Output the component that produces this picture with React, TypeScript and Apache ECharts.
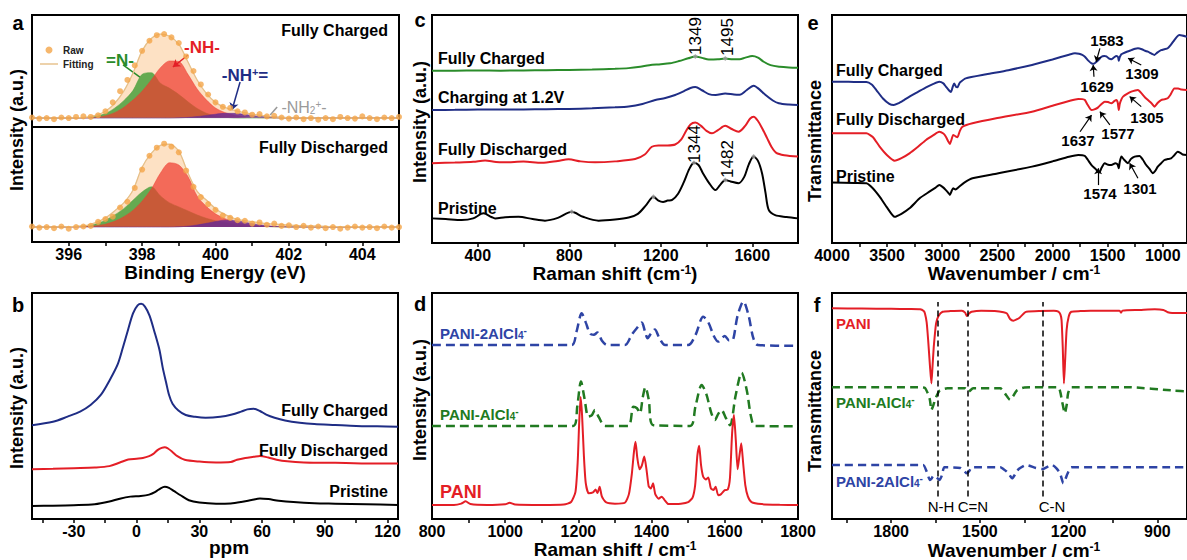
import React, { useEffect, useRef } from 'react';
import * as echarts from 'echarts';

const F = "'Liberation Sans', Arial, Helvetica, sans-serif";
const NAVY = '#1f2d85';
const RED = '#e41e26';
const GREEN = '#2a8c2a';
const DBLUE = '#2e44a5';
const DGREEN = '#217a21';

// ---------- panel a (XPS N1s) ----------
const aFitX = [395, 396, 396.5, 396.75, 397, 397.25, 397.5, 397.75, 398, 398.25, 398.5, 398.75, 399, 399.25, 399.5, 399.75, 400, 400.25, 400.5, 400.75, 401, 401.25, 401.5, 401.75, 402, 403, 405];
const aTopEnvelope = [8, 8.2, 8.8, 10.5, 14, 21, 32, 48, 68, 79, 83, 81, 74, 58, 42, 30, 22, 17.5, 15, 13, 11.5, 10.3, 9.3, 8.7, 8.3, 8, 8];
const aTopN = [8, 8.1, 8.5, 9.6, 12, 16.8, 23.5, 32.5, 47, 48.5, 39, 34.5, 29, 22.5, 16.5, 12.3, 9.8, 8.7, 8.2, 8, 8, 8, 8, 8, 8, 8, 8];
const aTopNH = [8, 8, 8, 8.6, 10, 12.8, 17.5, 24, 32, 42, 53, 59, 58.5, 47, 34, 24.3, 17, 13, 10.7, 9.4, 8.7, 8.3, 8.1, 8, 8, 8, 8];
const aTopNHp = [8, 8, 8, 8, 8, 8, 8, 8, 8, 8, 8, 8, 8.2, 8.6, 9.3, 10.3, 11.4, 12.2, 12.2, 11.4, 10.3, 9.4, 8.7, 8.3, 8.1, 8, 8];
const aTopNH2 = [8, 8, 8, 8, 8, 8, 8, 8, 8, 8, 8, 8, 8, 8, 8, 8, 8, 8, 8, 8.3, 8.8, 9.1, 9.2, 9, 8.6, 8, 8];
const aBotEnvelope = [13, 13.3, 14.5, 17, 21, 27, 34, 45, 65, 77, 84, 85, 79, 60, 44, 36.5, 29, 24, 20.6, 18.8, 17.6, 16.5, 15.8, 15.2, 14.6, 13.6, 13];
const aBotN = [13, 13.2, 14, 15.8, 19, 23.5, 29, 36.3, 43.5, 48, 40, 34, 30.5, 27, 23.5, 20.6, 18.5, 17, 15.6, 14.6, 14, 13.6, 13.3, 13.1, 13, 13, 13];
const aBotNH = [13, 13, 13.5, 14.2, 15.5, 18, 22, 27.5, 35.5, 46, 60, 69, 67, 57, 40, 31, 24.5, 20.5, 17.6, 15.8, 14.6, 13.9, 13.4, 13.2, 13, 13, 13];
const aBotNHp = [13, 13, 13, 13, 13, 13, 13, 13, 13, 13, 13, 13, 13.2, 13.8, 14.8, 16.2, 17.8, 19, 18.8, 17.6, 16, 14.8, 13.9, 13.4, 13.1, 13, 13];
const aRawX = [395, 395.2, 395.4, 395.6, 395.8, 396, 396.2, 396.4, 396.6, 396.8, 397, 397.2, 397.4, 397.6, 397.8, 398, 398.2, 398.4, 398.6, 398.8, 399, 399.2, 399.4, 399.6, 399.8, 400, 400.2, 400.4, 400.6, 400.8, 401, 401.2, 401.4, 401.6, 401.8, 402, 402.2, 402.4, 402.6, 402.8, 403, 403.2, 403.4, 403.6, 403.8, 404, 404.2, 404.4, 404.6, 404.8, 405];
const aRawTop = [8.5, 7.5, 8, 7, 8.5, 8, 9, 9.5, 9, 10.5, 14, 22, 32, 42, 55, 68, 77, 82, 83, 80, 75, 63, 50, 38, 29, 22, 18, 17, 14, 13, 11, 11.5, 9.5, 10, 8.5, 7.5, 8.5, 7, 8, 6.5, 8, 7, 9, 8, 7.5, 9.5, 8, 7, 8.5, 8, 9];
const aRawBot = [13.5, 12.5, 13, 12, 13.5, 11.5, 13, 13.5, 14, 17.5, 20, 22, 30, 35, 47, 63, 75, 82, 85.5, 83, 78, 62, 48, 39, 33, 28, 23, 21, 19, 18.5, 16, 17, 15, 16, 14, 14.5, 13, 14, 12.5, 13.5, 12, 13, 11.5, 12.5, 13.5, 12.5, 13, 12, 13.5, 12.5, 13];
const aLabels = [396, 398, 400, 402, 404];
const aTicks = [396, 397, 398, 399, 400, 401, 402, 403, 404];
// annotation pointers: x1, y1, x2, y2
const aPointers = [
  [397.48, 55.4, 397.94, 44.6],
  [399.25, 64.3, 398.84, 53.6],
  [400.67, 40.2, 400.45, 15.2],
  [401.68, 17.9, 401.49, 10.7],
];

// ---------- panel b (NMR) ----------
const bCharged = [[-50, 41.5], [-40, 43], [-33, 45.3], [-27, 47.5], [-22, 50.4], [-17, 55], [-12.8, 61.5], [-9, 68.5], [-6.5, 76], [-4, 84], [-1.7, 91], [0.5, 94.5], [2.2, 95.2], [4, 94], [6.2, 90], [8.5, 83], [10.9, 75], [12.5, 67], [14.1, 60.5], [15.5, 55], [17.2, 51], [20, 48], [23.5, 46], [28, 45.2], [33, 44.8], [40, 45.2], [45.6, 46.2], [50, 47.5], [53, 48.5], [56, 48.8], [59, 47.8], [62, 46.2], [66, 44.8], [71, 43.6], [78, 42.6], [85, 42], [95, 41.6], [105, 41.2], [115, 41], [125, 40.8]];
const bDischarged = [[-50, 22], [-40, 22.2], [-30, 22.5], [-20, 22.8], [-13, 23.4], [-8, 25], [-4, 26.3], [0, 26.7], [3, 27], [6, 27.8], [8, 28.8], [10, 30.5], [12, 31.5], [13.5, 31.8], [15, 31.2], [17, 29.8], [19.5, 27.8], [23, 26.2], [30, 25.4], [38, 25], [45, 25.2], [48, 26.2], [52, 27], [56, 27.5], [59, 27.9], [63, 27.2], [67, 26.2], [72, 25.5], [80, 25], [90, 24.9], [100, 24.8], [110, 24.6], [125, 24.6]];
const bPristine = [[-50, 5.8], [-40, 5.9], [-30, 6.1], [-20, 6.5], [-13, 7.7], [-8, 9], [-3, 9.9], [2, 10.2], [6, 10.8], [9, 12], [11.5, 13.6], [13.5, 14.3], [15.5, 13.8], [18, 12.3], [21, 10.5], [25, 8.3], [30, 7.3], [38, 6.8], [45, 6.9], [50, 7.5], [55, 8.4], [59, 9.1], [63, 8.8], [68, 8.1], [75, 7.5], [85, 7], [95, 6.8], [110, 6.5], [125, 6.2]];
const bLabels = [-30, 0, 30, 60, 90, 120];
const bTicks = [-45, -30, -15, 0, 15, 30, 45, 60, 75, 90, 105, 120];

// ---------- panel c (Raman) ----------
const cCharged = [[200, 75.6], [300, 75.6], [400, 75.7], [500, 75.6], [600, 75.7], [700, 75.8], [800, 75.9], [900, 76.1], [1000, 76.4], [1059, 76.7], [1110, 77.3], [1150, 78], [1200, 78.4], [1240, 78.8], [1280, 79.8], [1320, 81], [1351, 81.8], [1380, 81.2], [1410, 80.5], [1450, 80.6], [1482, 80.9], [1515, 80.6], [1545, 80.6], [1570, 81.3], [1600, 82], [1625, 81.3], [1650, 79.5], [1680, 78], [1720, 77.3], [1760, 77], [1800, 76.9]];
const cCharging = [[200, 58.3], [300, 58.4], [400, 58.5], [500, 58.5], [600, 58.6], [700, 58.7], [800, 58.8], [900, 59.1], [1000, 59.5], [1060, 59.9], [1120, 61], [1176, 62.7], [1220, 63.6], [1263, 64.9], [1300, 66.5], [1330, 68], [1351, 68.4], [1380, 67], [1410, 65.3], [1440, 64.9], [1482, 65.6], [1520, 65.1], [1545, 65], [1575, 67], [1606, 69], [1630, 67.5], [1657, 65], [1690, 62.5], [1716, 61.3], [1760, 60.7], [1800, 60.5]];
const cDischarged = [[200, 35], [300, 35.3], [380, 35.6], [432, 36.2], [480, 35.5], [519, 35.4], [600, 35.7], [680, 35.2], [750, 36], [797, 36.7], [850, 35.8], [913, 35.4], [1000, 35.8], [1088, 36.8], [1130, 38.8], [1161, 42.2], [1190, 42.8], [1230, 42.8], [1263, 43.2], [1290, 45.5], [1310, 49], [1330, 52], [1351, 52.8], [1375, 51.5], [1400, 49.2], [1424, 48.1], [1450, 49.5], [1482, 51.4], [1510, 50], [1540, 48.8], [1570, 51.5], [1590, 54.5], [1606, 55.4], [1625, 53.5], [1645, 50], [1665, 46], [1685, 42], [1705, 39.5], [1740, 38.5], [1800, 37.9]];
const cPristine = [[200, 10.8], [260, 10.5], [330, 10.1], [380, 10.8], [425, 13], [460, 11.4], [476, 10.8], [520, 11.3], [578, 11.5], [640, 10.5], [694, 9.8], [750, 11], [811, 13.7], [860, 11.5], [928, 9.8], [1000, 10.3], [1060, 11.2], [1100, 12.8], [1135, 16.5], [1168, 20.3], [1190, 18.6], [1210, 18], [1230, 18.6], [1250, 18.9], [1275, 21.5], [1300, 26.5], [1325, 32.5], [1345, 35.2], [1365, 34.2], [1385, 30.5], [1410, 26.5], [1439, 23.2], [1460, 25.5], [1482, 27.6], [1505, 27], [1540, 26.2], [1565, 29], [1585, 34.5], [1606, 37.9], [1625, 36], [1643, 30.5], [1658, 22], [1672, 14.5], [1700, 12.2], [1750, 11.4], [1800, 10.8]];
const cPeakMarks = [[811, 13.7], [1168, 20.3], [1345, 35.2], [1482, 27.6], [1606, 37.9], [1351, 81.8], [1482, 80.9]];
const cLabels = [400, 800, 1200, 1600];
const cTicks = [400, 600, 800, 1000, 1200, 1400, 1600];

// ---------- panel d (calculated Raman) ----------
const d2AlCl4 = [[800, 77], [1100, 77], [1182, 77], [1195, 83], [1209, 91], [1220, 87], [1232, 82], [1242, 81.5], [1252, 82.5], [1264, 79], [1278, 77], [1327, 77], [1346, 81.6], [1360, 84.5], [1373, 86.9], [1382, 83], [1389, 80], [1398, 82], [1409, 83.9], [1420, 80.5], [1437, 77], [1500, 77], [1520, 81.5], [1541, 89.5], [1555, 87], [1570, 81], [1582, 78.5], [1600, 81], [1612, 79], [1620, 79], [1635, 90], [1651, 96.2], [1665, 90], [1678, 80], [1690, 77], [1800, 76.6]];
const dAlCl4 = [[800, 41.2], [1100, 41.2], [1186, 41.2], [1197, 50], [1207, 60.8], [1217, 53], [1227, 45.3], [1237, 46], [1245, 48.2], [1256, 45], [1273, 41.2], [1336, 41.2], [1350, 49.7], [1360, 49], [1368, 46.8], [1376, 54], [1383, 58.3], [1392, 53], [1405, 41.5], [1505, 41.2], [1520, 50], [1537, 59.3], [1550, 55], [1563, 47], [1573, 43.8], [1582, 46.5], [1591, 48.2], [1602, 45], [1614, 41.5], [1630, 55], [1646, 64.7], [1660, 57], [1672, 45], [1683, 41.2], [1800, 41]];
const dPani = [[800, 6.2], [860, 6.2], [880, 6.8], [892, 7.8], [905, 6.6], [950, 6.2], [1000, 6.5], [1012, 7.2], [1027, 6.4], [1100, 6.2], [1160, 6.4], [1180, 7.5], [1192, 12], [1198, 25], [1202, 42], [1206, 54], [1210, 46], [1215, 28], [1220, 16], [1228, 11.4], [1240, 11.8], [1247, 13], [1252, 11.5], [1258, 14.3], [1264, 10], [1275, 7.5], [1300, 6.8], [1327, 7.2], [1338, 11], [1346, 20], [1352, 30], [1356, 34.2], [1361, 27], [1367, 22], [1373, 23.5], [1380, 27.6], [1386, 22], [1392, 14.5], [1398, 13.5], [1404, 15.8], [1410, 11], [1419, 9], [1428, 9.9], [1435, 8.5], [1446, 6.6], [1480, 6.8], [1500, 7.5], [1512, 9.5], [1519, 15], [1525, 28], [1530, 32.4], [1535, 24], [1541, 18.7], [1548, 17.5], [1555, 18.4], [1562, 13.5], [1569, 12.8], [1575, 14.3], [1582, 10.5], [1590, 11], [1600, 12.8], [1608, 13], [1614, 18], [1620, 38], [1625, 46], [1630, 35], [1635, 22], [1640, 28], [1645, 33.5], [1650, 25], [1656, 15], [1663, 10], [1673, 7.5], [1700, 6.6], [1750, 6.3], [1800, 6.2]];
const dLabels = [800, 1000, 1200, 1400, 1600, 1800];
const dTicks = [900, 1000, 1100, 1200, 1300, 1400, 1500, 1600, 1700];

// ---------- panel e (FTIR) ----------
const eCharged = [[4000, 70.7], [3850, 70.7], [3750, 70.6], [3688, 70.6], [3640, 69.5], [3598, 67.1], [3540, 63.5], [3480, 61], [3440, 60.5], [3400, 61.2], [3350, 62.6], [3297, 64.2], [3220, 66.3], [3147, 68.3], [3080, 69.8], [3027, 70.7], [2990, 70], [2967, 68.6], [2940, 67], [2922, 66.2], [2905, 68.5], [2892, 70], [2875, 68.5], [2862, 68.3], [2845, 70], [2832, 70.7], [2787, 72.2], [2600, 74], [2400, 75.8], [2186, 78.1], [2000, 80.5], [1850, 82.6], [1796, 83.2], [1760, 83], [1730, 82.5], [1706, 81.7], [1675, 80], [1646, 78.8], [1625, 78.6], [1601, 79.5], [1583, 80.2], [1556, 81.7], [1530, 82], [1511, 81.9], [1490, 81], [1466, 80.6], [1445, 81.3], [1420, 82], [1405, 81.5], [1399, 79.9], [1390, 81.5], [1375, 82.8], [1360, 83.2], [1320, 84], [1285, 84.6], [1250, 85.2], [1225, 85.4], [1190, 85], [1160, 84.3], [1135, 83.9], [1100, 83], [1075, 82.5], [1050, 83.5], [1015, 84.6], [985, 85], [955, 85.4], [925, 87], [895, 89], [870, 90.5], [850, 91.2], [825, 91], [780, 90.5]];
const eDischarged = [[4000, 48.1], [3800, 48.1], [3688, 48.1], [3630, 46.5], [3568, 42.3], [3500, 38.5], [3432, 36.1], [3370, 37.2], [3297, 39.3], [3220, 42.2], [3147, 45.2], [3080, 47.3], [3027, 48.8], [2990, 48], [2967, 46.6], [2945, 44.5], [2931, 43.4], [2915, 45.5], [2901, 47.4], [2880, 46.8], [2862, 46.4], [2840, 49.2], [2816, 51], [2726, 52.5], [2500, 54.8], [2186, 57.6], [2000, 60.2], [1850, 62.3], [1766, 63.2], [1730, 63.1], [1706, 62.7], [1680, 60.5], [1646, 58.3], [1620, 58.6], [1586, 59.5], [1555, 61], [1526, 62], [1495, 61.8], [1466, 61.3], [1440, 62.2], [1420, 62.7], [1408, 61.5], [1399, 58.3], [1390, 61], [1375, 63], [1360, 64.2], [1320, 65.5], [1285, 66.4], [1250, 66.9], [1225, 67.1], [1190, 65.5], [1160, 63.8], [1135, 62.7], [1100, 61.2], [1075, 59.8], [1045, 61.5], [1015, 62.7], [985, 63], [955, 63.5], [930, 65], [895, 67.8], [860, 67.8], [830, 67.3], [780, 67.1]];
const ePristine = [[4000, 26.5], [3800, 26.3], [3688, 26.2], [3630, 24], [3568, 20.3], [3500, 15.5], [3432, 11.5], [3370, 12.8], [3297, 15.2], [3200, 19.8], [3117, 22.5], [3060, 24.3], [3027, 25.4], [2995, 24.5], [2967, 23.2], [2945, 22], [2931, 21.1], [2915, 22.8], [2901, 24], [2880, 23.5], [2847, 24.7], [2800, 26.5], [2726, 28.4], [2500, 30.5], [2186, 33.5], [2000, 35.8], [1850, 37.8], [1766, 38.6], [1730, 38.5], [1706, 38.2], [1680, 36.5], [1646, 34.2], [1610, 32.5], [1586, 31.3], [1574, 31], [1555, 33], [1526, 35], [1495, 34.3], [1466, 34.2], [1430, 35], [1410, 34.5], [1399, 32.8], [1390, 35.5], [1375, 37.9], [1350, 36.5], [1315, 35], [1290, 36.8], [1255, 37.9], [1210, 38.2], [1180, 36.5], [1150, 34.2], [1120, 32.5], [1090, 30.6], [1070, 31.5], [1045, 33.5], [1015, 35], [985, 36.4], [955, 36.8], [925, 37.1], [895, 38.5], [865, 40], [840, 39.5], [820, 38.8], [780, 38.6]];
const eArrows = [[1570, 85.4, 1604, 79.5], [1624, 72.9, 1631, 78.1], [1195, 78.1, 1315, 81], [1750, 48.8, 1646, 56.1], [1480, 51.8, 1570, 57.6], [1195, 59.8, 1300, 64.2], [1586, 25.4, 1586, 32.8], [1225, 28.4, 1300, 35]];
const eLabels = [1000, 1500, 2000, 2500, 3000, 3500, 4000];
const eTicks = [1000, 1250, 1500, 1750, 2000, 2250, 2500, 2750, 3000, 3250, 3500, 3750];

// ---------- panel f (calculated IR) ----------
const fPani = [[2000, 93.2], [1900, 93.1], [1800, 93], [1740, 92.9], [1702, 92.8], [1690, 92], [1686, 91], [1680, 87], [1675, 79.2], [1669, 68], [1664, 60], [1660, 68], [1656, 76.2], [1652, 82], [1648, 86.6], [1640, 89.8], [1626, 91.7], [1600, 92], [1561, 92.2], [1550, 91.3], [1544, 89.8], [1536, 91], [1528, 91.7], [1496, 92.2], [1450, 92], [1420, 91.5], [1409, 91], [1398, 88.5], [1387, 87.7], [1376, 88.3], [1365, 89.2], [1350, 91.2], [1343, 91.7], [1300, 92], [1250, 92.1], [1235, 91.8], [1228, 90.5], [1224, 88], [1220, 76], [1216, 60], [1212, 70], [1207, 83.6], [1200, 89.5], [1191, 91.7], [1160, 92], [1126, 92.2], [1080, 92.2], [1040, 92.1], [1028, 92.2], [1023, 91.3], [1018, 92.2], [960, 92.5], [909, 92.8], [880, 92.5], [865, 91.5], [850, 91.2], [800, 91.2]];
const fAlCl4 = [[2000, 58.3], [1800, 58.3], [1700, 58.3], [1686, 58], [1676, 55.5], [1669, 52.7], [1664, 48.2], [1657, 50.5], [1650, 53.4], [1636, 56.8], [1610, 57.8], [1550, 57.8], [1539, 56.3], [1523, 57.8], [1431, 57.8], [1415, 55.5], [1398, 52.7], [1387, 54.5], [1376, 56.8], [1350, 58.2], [1235, 58.3], [1228, 56], [1222, 51.9], [1213, 46.8], [1206, 51], [1202, 55.6], [1191, 58.3], [1000, 58.3], [842, 56.8], [800, 56.5]];
const f2AlCl4 = [[2000, 23.9], [1800, 23.9], [1692, 23.9], [1680, 21], [1669, 17.3], [1663, 18], [1658, 19], [1648, 18.5], [1636, 17.3], [1628, 19.5], [1620, 22.9], [1566, 22.6], [1555, 21.5], [1544, 20.2], [1536, 21.2], [1528, 22.9], [1431, 22.9], [1420, 22], [1409, 20.9], [1400, 19.5], [1391, 18], [1380, 20], [1369, 22.1], [1343, 23.9], [1311, 22.6], [1289, 22.1], [1270, 23.2], [1256, 23.9], [1242, 22.5], [1229, 20.2], [1218, 15.8], [1210, 18], [1204, 20], [1191, 22.9], [1000, 22.9], [842, 22.9], [800, 22.9]];
const fBands = [1642, 1541, 1287];
const fLabels = [900, 1200, 1500, 1800];
const fTicks = [900, 1050, 1200, 1350, 1500, 1650, 1800, 1950];

const zip = (xs: number[], ys: number[]) => xs.map((x, i) => [x, ys[i]]);

function xAx(gridIndex: number, min: number, max: number, labels: number[], ticks: number[], inverse = false, show = true) {
  return {
    type: 'value', gridIndex, min, max, inverse,
    axisLine: { show: false },
    splitLine: { show: false },
    axisTick: { show, length: 4, lineStyle: { color: '#000', width: 1.5 }, customValues: ticks },
    axisLabel: {
      show, customValues: labels, fontSize: 16, fontWeight: 'bold', fontFamily: F, color: '#000', margin: 4,
      formatter: (v: number) => String(v),
    },
  };
}
const yAx = (gridIndex: number) => ({ type: 'value', gridIndex, min: 0, max: 100, show: false });
const grid = (left: number, top: number, width: number, height: number) => ({
  left, top, width, height, show: true, borderColor: '#000', borderWidth: 2, backgroundColor: 'transparent',
});

function line(idx: number, data: any[], color: string, extra: any = {}) {
  const { lineStyle, ...rest } = extra;
  return {
    type: 'line', xAxisIndex: idx, yAxisIndex: idx, data, symbol: 'none', smooth: 0.3,
    itemStyle: { color }, silent: true, ...rest,
    lineStyle: { color, width: 2, ...(lineStyle || {}) },
  };
}
function area(idx: number, data: any[], color: string, opacity: number, origin: number, z = 2) {
  return {
    type: 'line', xAxisIndex: idx, yAxisIndex: idx, data, symbol: 'none', smooth: 0.3, z,
    lineStyle: { width: 0.6, color, opacity }, areaStyle: { color, opacity, origin }, silent: true,
  };
}

const richSet = (color: string, size: number, weight: string) => ({
  m: { fill: color, color, fontSize: size, fontWeight: weight, fontFamily: F },
  sup: { fill: color, color, fontSize: Math.round(size * 0.65), fontWeight: weight, fontFamily: F, verticalAlign: 'top' },
  sub: { fill: color, color, fontSize: Math.round(size * 0.65), fontWeight: weight, fontFamily: F, verticalAlign: 'bottom' },
});

function T(x: number, y: number, text: string, o: any = {}) {
  const color = o.color || '#000';
  const size = o.size || 16;
  const weight = o.weight || 'bold';
  return {
    type: 'text', x, y, rotation: o.rot || 0, silent: true, z: 100,
    style: {
      text, fill: color, fontSize: size, fontWeight: weight, fontFamily: F,
      textAlign: o.align || 'center', textVerticalAlign: 'middle',
      rich: o.rich ? richSet(color, size, weight) : undefined,
    },
  };
}

const eNotes: [string, number, number][] = [['1583', 1107, 40], ['1629', 1097, 86], ['1309', 1142, 73], ['1637', 1078, 140], ['1577', 1118, 133], ['1305', 1147, 117], ['1574', 1100, 193], ['1301', 1140, 188]];

const option: any = {
  animation: false,
  backgroundColor: '#fff',
  legend: {
    data: [
      { name: 'Raw', icon: 'circle' },
      { name: 'Fitting', icon: 'path://M0,0 L20,0 L20,1.6 L0,1.6 Z' },
    ],
    left: 40, top: 45, orient: 'vertical', itemGap: 4, itemWidth: 18, itemHeight: 7,
    padding: 0, selectedMode: false,
    textStyle: { fontSize: 10, fontWeight: 'bold', fontFamily: F, color: '#222' },
  },
  grid: [
    grid(32, 15, 367, 112),
    grid(32, 127, 367, 115),
    grid(32, 293, 366, 226),
    grid(432, 15, 366, 228),
    grid(432, 293, 366, 226),
    grid(832, 15, 358, 228),
    grid(832, 293, 368, 226),
  ],
  xAxis: [
    xAx(0, 395, 405, aLabels, aTicks, false, false),
    xAx(1, 395, 405, aLabels, aTicks),
    xAx(2, -50, 125, bLabels, bTicks),
    xAx(3, 200, 1800, cLabels, cTicks),
    xAx(4, 800, 1800, dLabels, dTicks),
    xAx(5, 780, 4000, eLabels, eTicks, true),
    xAx(6, 800, 2000, fLabels, fTicks, true),
  ],
  yAxis: [0, 1, 2, 3, 4, 5, 6].map(yAx),
  series: [
    // a top
    area(0, zip(aFitX, aTopEnvelope), '#fde1c4', 1, 8, 1),
    area(0, zip(aFitX, aTopN), '#58a546', 0.92, 8, 2),
    area(0, zip(aFitX, aTopNH), '#ee3b2f', 0.72, 8, 3),
    area(0, zip(aFitX, aTopNHp), '#6a2c91', 0.85, 8, 4),
    area(0, zip(aFitX, aTopNH2), '#9a9a9a', 0.5, 8, 4),
    {
      ...line(0, zip(aFitX, aTopEnvelope), '#e6c08a', { lineStyle: { width: 1.3 } }), name: 'Fitting', z: 5,
      markLine: {
        silent: true, symbol: ['none', 'none'], symbolSize: 7, label: { show: false },
        data: aPointers.map((p, i) => {
          const col = [GREEN, RED, NAVY, '#9a9a9a'][i];
          return [
            { coord: [p[0], p[1]], lineStyle: { color: col, width: 1.5, type: 'solid' }, symbol: 'none' },
            { coord: [p[2], p[3]], symbol: i === 1 || i === 2 ? 'arrow' : 'none' },
          ];
        }),
      },
    },
    { type: 'scatter', name: 'Raw', xAxisIndex: 0, yAxisIndex: 0, data: zip(aRawX, aRawTop), symbolSize: 6, itemStyle: { color: '#f4a548' }, z: 6, silent: true },
    // a bottom
    area(1, zip(aFitX, aBotEnvelope), '#fde1c4', 1, 13, 1),
    area(1, zip(aFitX, aBotN), '#58a546', 0.92, 13, 2),
    area(1, zip(aFitX, aBotNH), '#ee3b2f', 0.72, 13, 3),
    area(1, zip(aFitX, aBotNHp), '#6a2c91', 0.85, 13, 4),
    { ...line(1, zip(aFitX, aBotEnvelope), '#e6c08a', { lineStyle: { width: 1.3 } }), name: 'Fitting', z: 5 },
    { type: 'scatter', name: 'Raw', xAxisIndex: 1, yAxisIndex: 1, data: zip(aRawX, aRawBot), symbolSize: 6, itemStyle: { color: '#f4a548' }, z: 6, silent: true },
    // b
    line(2, bCharged, NAVY),
    line(2, bDischarged, RED),
    line(2, bPristine, '#000'),
    // c
    line(3, cCharged, GREEN),
    line(3, cCharging, NAVY),
    line(3, cDischarged, RED),
    line(3, cPristine, '#000'),
    { type: 'scatter', xAxisIndex: 3, yAxisIndex: 3, data: cPeakMarks, symbol: 'diamond', symbolSize: 5, itemStyle: { color: '#9a9a9a' }, silent: true, z: 6 },
    // d
    line(4, d2AlCl4, DBLUE, { lineStyle: { type: [9, 5], width: 2.5 } }),
    line(4, dAlCl4, DGREEN, { lineStyle: { type: [9, 5], width: 2.5 } }),
    line(4, dPani, RED, { smooth: 0.2 }),
    // e
    line(5, eCharged, NAVY, { smooth: 0.2 }),
    line(5, eDischarged, RED, { smooth: 0.2 }),
    {
      ...line(5, ePristine, '#000', { smooth: 0.2 }),
      markLine: {
        silent: true, symbol: ['none', 'arrow'], symbolSize: 6, label: { show: false },
        lineStyle: { color: '#000', width: 1.2, type: 'solid' },
        data: eArrows.map((p) => [{ coord: [p[0], p[1]] }, { coord: [p[2], p[3]] }]),
      },
    },
    // f
    {
      ...line(6, fPani, RED, { smooth: 0.2 }),
      markLine: {
        silent: true, symbol: ['none', 'none'], label: { show: false },
        lineStyle: { color: '#000', width: 1.5, type: [6, 4] },
        data: fBands.map((v) => [{ coord: [v, 10] }, { coord: [v, 96] }]),
      },
    },
    line(6, fAlCl4, DGREEN, { smooth: 0.2, lineStyle: { type: [8, 5], width: 2.5 } }),
    line(6, f2AlCl4, DBLUE, { smooth: 0.2, lineStyle: { type: [8, 5], width: 2.5 } }),
  ],
  graphic: {
    elements: [
      // panel letters
      T(18, 23, 'a', { size: 20 }), T(18, 305, 'b', { size: 20 }), T(420, 20, 'c', { size: 20 }),
      T(420, 304, 'd', { size: 20 }), T(813, 23, 'e', { size: 20 }), T(817, 305, 'f', { size: 20 }),
      // y titles
      T(17, 130, 'Intensity (a.u.)', { size: 18, rot: Math.PI / 2 }),
      T(17, 408, 'Intensity (a.u.)', { size: 18, rot: Math.PI / 2 }),
      T(420, 122, 'Intensity (a.u.)', { size: 18, rot: Math.PI / 2 }),
      T(420, 400, 'Intensity (a.u.)', { size: 18, rot: Math.PI / 2 }),
      T(815, 141, 'Transmittance', { size: 18, rot: Math.PI / 2 }),
      T(815, 411, 'Transmittance', { size: 18, rot: Math.PI / 2 }),
      // x titles
      T(215, 272, 'Binding Energy (eV)', { size: 19 }),
      T(229, 547, 'ppm', { size: 19 }),
      T(615, 273, '{m|Raman shift (cm}{sup|-1}{m|)}', { size: 19, rich: true }),
      T(615, 549, '{m|Raman shift / cm}{sup|-1}', { size: 19, rich: true }),
      T(1014, 273, '{m|Wavenumber / cm}{sup|-1}', { size: 19, rich: true }),
      T(1014, 550, '{m|Wavenumber / cm}{sup|-1}', { size: 19, rich: true }),
      // panel a
      T(388, 30, 'Fully Charged', { align: 'right' }),
      T(388, 147, 'Fully Discharged', { align: 'right' }),
      T(120, 60, '=N-', { size: 17, color: GREEN }),
      T(202, 47, '-NH-', { size: 17, color: RED }),
      T(245, 75, '{m|-NH}{sup|+}{m|=}', { size: 17, color: NAVY, rich: true }),
      T(304, 107, '{m|-NH}{sub|2}{sup|+}{m|-}', { size: 16, color: '#9a9a9a', weight: 'normal', rich: true }),
      // panel b
      T(388, 410, 'Fully Charged', { align: 'right' }),
      T(388, 450, 'Fully Discharged', { align: 'right' }),
      T(388, 491, 'Pristine', { align: 'right' }),
      // panel c
      T(438, 58, 'Fully Charged', { align: 'left' }),
      T(438, 97, 'Charging at 1.2V', { align: 'left' }),
      T(438, 149, 'Fully Discharged', { align: 'left' }),
      T(438, 208, 'Pristine', { align: 'left' }),
      T(695, 36, '1349', { size: 17, weight: 'normal', rot: Math.PI / 2 }),
      T(727, 37, '1495', { size: 17, weight: 'normal', rot: Math.PI / 2 }),
      T(694, 144, '1344', { size: 17, weight: 'normal', rot: Math.PI / 2 }),
      T(727, 159, '1482', { size: 17, weight: 'normal', rot: Math.PI / 2 }),
      // panel d
      T(440, 333, '{m|PANI-2AlCl}{sub|4}{sup|-}', { size: 15, color: DBLUE, align: 'left', rich: true }),
      T(440, 414, '{m|PANI-AlCl}{sub|4}{sup|-}', { size: 15, color: DGREEN, align: 'left', rich: true }),
      T(440, 492, 'PANI', { size: 18, color: RED, align: 'left' }),
      // panel e
      T(836, 70, 'Fully Charged', { align: 'left' }),
      T(836, 119, 'Fully Discharged', { align: 'left' }),
      T(836, 176, 'Pristine', { align: 'left' }),
      ...eNotes.map((n) => T(n[1], n[2], n[0], { size: 15 })),
      // panel f
      T(836, 323, 'PANI', { size: 15, color: RED, align: 'left' }),
      T(836, 402, '{m|PANI-AlCl}{sub|4}{sup|-}', { size: 15, color: DGREEN, align: 'left', rich: true }),
      T(836, 481, '{m|PANI-2AlCl}{sub|4}{sup|-}', { size: 15, color: DBLUE, align: 'left', rich: true }),
      T(941, 506, 'N-H', { size: 15, weight: 'normal' }),
      T(973, 506, 'C=N', { size: 15, weight: 'normal' }),
      T(1052, 506, 'C-N', { size: 15, weight: 'normal' }),
    ],
  },
};

export default function App() {
  const ref = useRef<HTMLDivElement>(null);
  useEffect(() => {
    const chart = echarts.init(ref.current!, null, { renderer: 'svg' });
    chart.setOption(option);
    return () => chart.dispose();
  }, []);
  return (
    <div
      ref={ref}
      style={{ position: 'absolute', left: 0, top: 0, width: 1187, height: 560, background: '#fff' }}
    />
  );
}
